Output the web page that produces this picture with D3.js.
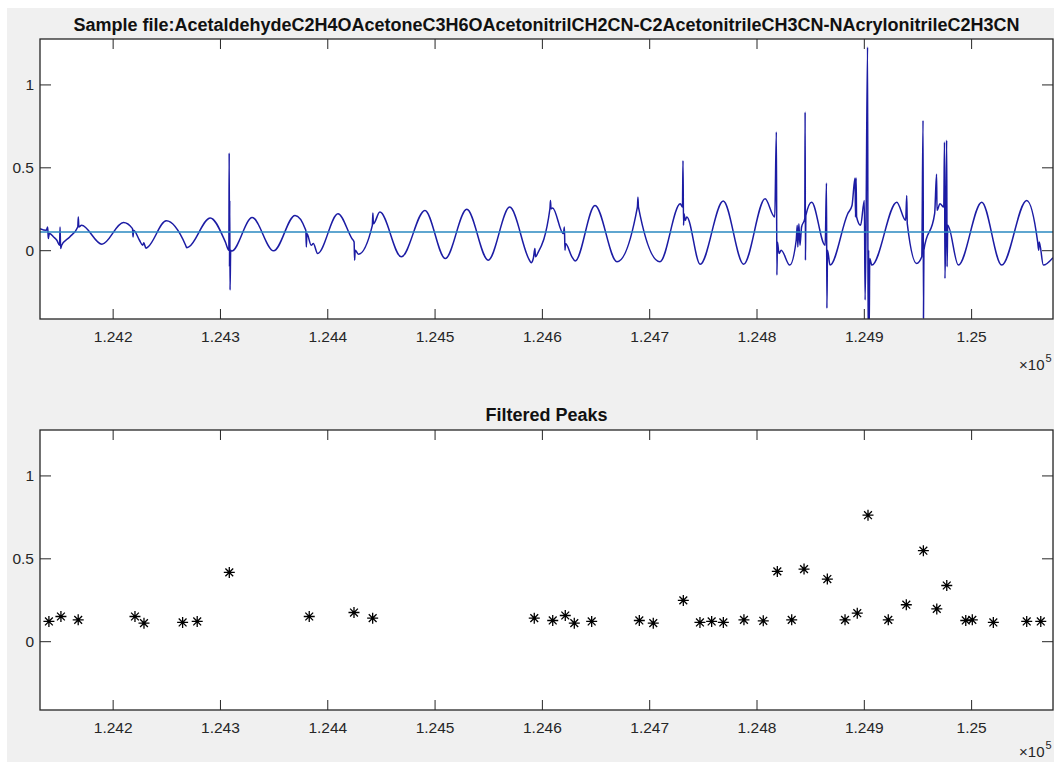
<!DOCTYPE html>
<html>
<head>
<meta charset="utf-8">
<script src="https://cdnjs.cloudflare.com/ajax/libs/d3/7.8.5/d3.min.js"></script>
<style>
  html, body { margin: 0; padding: 0; background: #ffffff; }
  svg { display: block; }
</style>
</head>
<body>
<svg id="chart" width="1054" height="762"></svg>
<script>
// ---- data ----
const mainTitle = "Sample file:AcetaldehydeC2H4OAcetoneC3H6OAcetonitrilCH2CN-C2AcetonitrileCH3CN-NAcrylonitrileC2H3CN";
const peaksTitle = "Filtered Peaks";

const xTicks = [124200, 124300, 124400, 124500, 124600, 124700, 124800, 124900, 125000];
const xTickLabels = ["1.242", "1.243", "1.244", "1.245", "1.246", "1.247", "1.248", "1.249", "1.25"];
const yTicks = [0, 0.5, 1];
const yTickLabels = ["0", "0.5", "1"];

const xRange = [124132.3, 125076.3];
const yRange = [-0.415, 1.274];

// detector signal: [time, value]
const signal = [
  [124132.3, 0.13], [124138, 0.12], [124139.5, 0.14], [124140, 0.07], [124141, 0.10],
  [124145, 0.08], [124148, 0.06], [124150.5, 0.03], [124151, 0.14], [124151.5, 0.01],
  [124152.5, 0.03], [124160, 0.08], [124167.5, 0.14], [124168, 0.20], [124168.5, 0.14],
  [124171, 0.15], [124190, 0.036], [124210, 0.167], [124218.5, 0.13], [124219, 0.08],
  [124219.5, 0.12], [124225, 0.06], [124228, 0.03], [124229, 0.045], [124231, 0.012],
  [124233, 0.02], [124250, 0.177], [124268, 0.03], [124269, 0.015], [124271, 0.02],
  [124291, 0.195], [124305, 0.05], [124308.3, 0.0], [124308.6, 0.586], [124308.9, -0.1],
  [124309.1, 0.3], [124309.4, -0.24], [124310, 0.0], [124311, -0.005], [124330, 0.197],
  [124350, -0.004], [124370, 0.21], [124380, 0.12], [124380.5, 0.02], [124381, 0.1],
  [124385, 0.03], [124387, 0.04], [124391, -0.02], [124410, 0.22], [124423, 0.07],
  [124425, 0.05], [124425.5, -0.06], [124426, 0.0], [124429, -0.024], [124442, 0.15],
  [124442.5, 0.225], [124443, 0.16], [124449, 0.23], [124469, -0.04], [124491, 0.24],
  [124510, -0.05], [124530, 0.247], [124550, -0.06], [124570, 0.26], [124588, -0.055],
  [124590, -0.075], [124592, -0.05], [124593.5, 0.01], [124594, -0.04], [124596, -0.02],
  [124607.5, 0.25], [124608, 0.30], [124608.5, 0.25], [124610, 0.255], [124620, 0.1],
  [124621, 0.14], [124621.5, 0.0], [124622, 0.04], [124628, -0.04], [124631, -0.065],
  [124649.5, 0.27], [124670, -0.07], [124689, 0.26], [124689.5, 0.32], [124690, 0.26],
  [124710, -0.07], [124729, 0.28], [124731, 0.26], [124731.5, 0.54], [124732, 0.15],
  [124732.5, 0.22], [124733.5, 0.18], [124735, 0.2], [124747.5, -0.085], [124769, 0.297],
  [124788, -0.085], [124808, 0.31], [124817, 0.2], [124818.5, 0.713], [124819, -0.15],
  [124819.5, 0.05], [124821, -0.02], [124823, 0.0], [124831, -0.09], [124837, 0.06],
  [124838, 0.15], [124838.5, 0.02], [124839.5, 0.16], [124840.5, 0.03], [124842, 0.14],
  [124845, 0.19], [124845.3, 0.833], [124845.6, -0.06], [124846, 0.21], [124851.4, 0.29],
  [124864, 0.03], [124865.2, 0.405], [124865.6, -0.35], [124866.2, 0.0], [124868.5, -0.09],
  [124885, 0.22], [124889, 0.27], [124891.8, 0.435], [124892.3, 0.2], [124892.8, 0.435],
  [124893.3, 0.2], [124897, 0.15], [124900.5, 0.3], [124901.2, -0.3], [124902, 0.1],
  [124903.5, 1.225], [124904, -0.6], [124904.5, 0.0], [124905, -0.5], [124905.5, -0.05],
  [124907.5, -0.09], [124930.7, 0.29], [124939, 0.18], [124940, 0.33], [124940.5, 0.16],
  [124949.3, -0.08], [124954, -0.04], [124955.2, 0.783], [124955.6, -0.41], [124956, 0.0],
  [124966, 0.22], [124967.8, 0.458], [124968.2, 0.24], [124971, 0.28], [124974.5, 0.26],
  [124975.2, 0.652], [124975.6, -0.17], [124976.4, 0.1], [124977.2, 0.663], [124977.6, -0.1],
  [124978.2, 0.15], [124988.1, -0.09], [125009.9, 0.29], [125028.5, -0.09], [125051.8, 0.30],
  [125062, 0.05], [125063, 0.0], [125063.5, 0.05], [125067.3, -0.09], [125076.3, -0.045]
];

const thresholdValue = 0.11;

// filtered peaks
const peakTime = [
  124140.6, 124151.8, 124167.9, 124220.8, 124229.2, 124265.2, 124278.8, 124308.7,
  124383.2, 124424.9, 124442.3, 124592.9, 124610.1, 124621.8, 124630.2, 124646.4,
  124690.8, 124703.8, 124731.8, 124747.3, 124758.2, 124769.1, 124788.3, 124806.3,
  124819.4, 124832.8, 124844.3, 124866.0, 124882.5, 124893.9, 124903.9, 124922.8,
  124939.6, 124955.5, 124968.0, 124977.3, 124995.0, 125001.1, 125020.7, 125051.8,
  125064.9
];
const peakValue = [
  0.119, 0.149, 0.129, 0.149, 0.109, 0.113, 0.119, 0.415,
  0.149, 0.173, 0.139, 0.139, 0.125, 0.155, 0.109, 0.119,
  0.125, 0.109, 0.246, 0.113, 0.119, 0.113, 0.129, 0.123,
  0.421, 0.129, 0.435, 0.375, 0.129, 0.169, 0.760, 0.129,
  0.220, 0.546, 0.195, 0.336, 0.125, 0.129, 0.113, 0.119,
  0.119
];

// ---- layout ----
const W = 1054, H = 762;
const FONT = "'Liberation Sans', Arial, Helvetica, sans-serif";
const TEXT_COLOR = "#262626";
const panels = [
  { top: 39, bottom: 319, title: mainTitle, titleY: 31, exponentDrop: 51 },
  { top: 430, bottom: 710, title: peaksTitle, titleY: 421, exponentDrop: 47 }
];
const left = 40, right = 1053;

const svg = d3.select("#chart");

// figure background
svg.append("rect").attr("x", 7).attr("y", 8).attr("width", W - 7).attr("height", H - 8)
  .attr("fill", "#f0f0f0");

const x = d3.scaleLinear().domain(xRange).range([left, right]);

function drawPanel(p, idx) {
  const y = d3.scaleLinear().domain(yRange).range([p.bottom, p.top]);
  const g = svg.append("g");

  g.append("rect")
    .attr("x", left).attr("y", p.top)
    .attr("width", right - left).attr("height", p.bottom - p.top)
    .attr("fill", "#ffffff");

  const clipId = "clip" + idx;
  svg.append("clipPath").attr("id", clipId)
    .append("rect")
    .attr("x", left).attr("y", p.top)
    .attr("width", right - left).attr("height", p.bottom - p.top);

  const plot = g.append("g").attr("clip-path", `url(#${clipId})`);

  // axes
  const styleAxis = sel => {
    sel.attr("font-family", FONT).attr("font-size", 15.5);
    sel.select(".domain").remove();
    sel.selectAll(".tick line").attr("stroke", TEXT_COLOR).attr("stroke-width", 1);
    sel.selectAll(".tick text").attr("fill", TEXT_COLOR);
  };

  g.append("g").attr("transform", `translate(0,${p.bottom})`)
    .call(d3.axisBottom(x).tickValues(xTicks)
      .tickFormat((d, i) => xTickLabels[i])
      .tickSizeInner(-10).tickSizeOuter(0).tickPadding(12))
    .call(styleAxis);
  g.append("g").attr("transform", `translate(0,${p.top})`)
    .call(d3.axisTop(x).tickValues(xTicks).tickFormat("")
      .tickSizeInner(-10).tickSizeOuter(0))
    .call(styleAxis);
  g.append("g").attr("transform", `translate(${left},0)`)
    .call(d3.axisLeft(y).tickValues(yTicks)
      .tickFormat((d, i) => yTickLabels[i])
      .tickSizeInner(-11).tickSizeOuter(0).tickPadding(6))
    .call(styleAxis);
  g.append("g").attr("transform", `translate(${right},0)`)
    .call(d3.axisRight(y).tickValues(yTicks).tickFormat("")
      .tickSizeInner(-11).tickSizeOuter(0))
    .call(styleAxis);

  // axes box
  g.append("rect")
    .attr("x", left).attr("y", p.top)
    .attr("width", right - left).attr("height", p.bottom - p.top)
    .attr("fill", "none").attr("stroke", TEXT_COLOR).attr("stroke-width", 1.3);

  // title
  g.append("text")
    .attr("x", (left + right) / 2).attr("y", p.titleY)
    .attr("text-anchor", "middle")
    .attr("font-family", FONT).attr("font-size", 18).attr("font-weight", "bold")
    .attr("fill", "#111")
    .text(p.title);

  // x exponent label
  const ex = g.append("g").attr("font-family", FONT).attr("fill", TEXT_COLOR);
  ex.append("text").attr("x", 1044.5).attr("y", p.bottom + p.exponentDrop)
    .attr("text-anchor", "end").attr("font-size", 15).text("\u00d710");
  ex.append("text").attr("x", 1045.5).attr("y", p.bottom + p.exponentDrop - 8)
    .attr("font-size", 11).text("5");

  return { plot, y };
}

// top panel: signal and threshold
const topP = drawPanel(panels[0], 0);
const line = d3.line()
  .x(d => x(d[0]))
  .y(d => topP.y(d[1]))
  .curve(d3.curveMonotoneX);

topP.plot.append("path")
  .datum(signal)
  .attr("d", line)
  .attr("fill", "none")
  .attr("stroke", "#1c1ca4")
  .attr("stroke-width", 1.5)
  .attr("stroke-linejoin", "round");

topP.plot.append("line")
  .attr("x1", x(xRange[0])).attr("x2", x(xRange[1]))
  .attr("y1", topP.y(thresholdValue)).attr("y2", topP.y(thresholdValue))
  .attr("stroke", "#2a88c0").attr("stroke-width", 1.6);

// bottom panel: filtered peaks as asterisks
const botP = drawPanel(panels[1], 1);
const starPath = "M0,-5.5V5.5M-5.5,0H5.5M-3.9,-3.9L3.9,3.9M-3.9,3.9L3.9,-3.9";
botP.plot.selectAll("path.peak")
  .data(peakTime.map((t, i) => [t, peakValue[i]]))
  .join("path")
  .attr("class", "peak")
  .attr("transform", d => `translate(${x(d[0])},${botP.y(d[1])})`)
  .attr("d", starPath)
  .attr("fill", "none")
  .attr("stroke", "#000")
  .attr("stroke-width", 1.3);
</script>
</body>
</html>
